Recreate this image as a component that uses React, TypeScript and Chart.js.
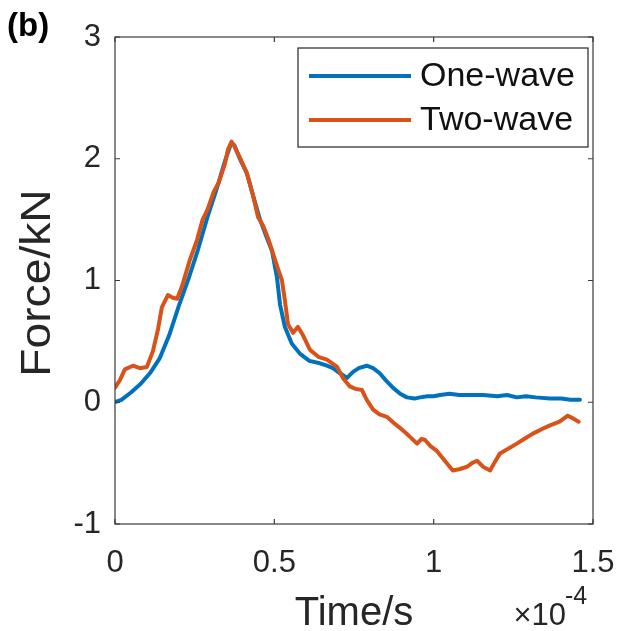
import React, { useEffect, useRef } from 'react';
import { Chart, registerables } from 'chart.js';

Chart.register(...registerables);

// Time in units of 1e-4 s, force in kN
const oneWaveTime = [
  0, 0.02, 0.05, 0.08, 0.11, 0.14, 0.17, 0.2, 0.23, 0.26,
  0.29, 0.32, 0.345, 0.365, 0.375, 0.39, 0.414, 0.433, 0.455, 0.475,
  0.493, 0.508, 0.518, 0.533, 0.555, 0.58, 0.61, 0.643, 0.665, 0.684,
  0.705, 0.728, 0.747, 0.765, 0.79, 0.81, 0.83, 0.85, 0.872, 0.895,
  0.916, 0.94, 0.957, 0.98, 1.0, 1.02, 1.05, 1.08, 1.11, 1.155,
  1.2, 1.23, 1.261, 1.29, 1.32, 1.365, 1.4, 1.43, 1.459,
];
const oneWaveForce = [
  0.0, 0.02, 0.08, 0.15, 0.24, 0.36, 0.55, 0.79, 1.01, 1.25,
  1.52, 1.76, 1.98, 2.13, 2.11, 2.01, 1.88, 1.7, 1.5, 1.36,
  1.24, 1.03, 0.8, 0.62, 0.48, 0.4, 0.34, 0.32, 0.3, 0.28,
  0.24, 0.2, 0.25, 0.28, 0.3, 0.28, 0.24, 0.18, 0.12, 0.07,
  0.04, 0.03, 0.04, 0.05, 0.05, 0.06, 0.07, 0.06, 0.06, 0.06,
  0.05, 0.06, 0.04, 0.05, 0.04, 0.03, 0.03, 0.02, 0.02,
];

const twoWaveTime = [
  0, 0.015, 0.031, 0.056, 0.078, 0.1, 0.119, 0.135, 0.147, 0.166,
  0.18, 0.195, 0.21, 0.235, 0.257, 0.275, 0.29, 0.31, 0.325, 0.345,
  0.355, 0.366, 0.375, 0.39, 0.414, 0.433, 0.449, 0.465, 0.48, 0.496,
  0.511, 0.524, 0.533, 0.543, 0.559, 0.574, 0.59, 0.612, 0.64, 0.665,
  0.697, 0.715, 0.737, 0.755, 0.775, 0.79, 0.81, 0.83, 0.853, 0.875,
  0.894, 0.92, 0.948, 0.962, 0.973, 0.99, 1.01, 1.035, 1.06, 1.08,
  1.105, 1.12, 1.136, 1.155, 1.177, 1.19, 1.208, 1.235, 1.261, 1.285,
  1.31, 1.34, 1.365, 1.395, 1.421, 1.435, 1.455,
];
const twoWaveForce = [
  0.12, 0.18, 0.27, 0.3, 0.28, 0.29, 0.42, 0.6, 0.78, 0.88,
  0.86, 0.85, 0.95, 1.17, 1.33, 1.5, 1.58, 1.73, 1.8, 1.96,
  2.08, 2.14, 2.1, 2.02, 1.88, 1.7, 1.52, 1.45, 1.35, 1.22,
  1.1, 1.0, 0.84, 0.64, 0.57, 0.62, 0.55, 0.43, 0.37, 0.35,
  0.29, 0.2, 0.13, 0.11, 0.1, 0.02, -0.06, -0.1, -0.12, -0.17,
  -0.21, -0.27, -0.34, -0.3, -0.31, -0.36, -0.4, -0.48, -0.56, -0.55,
  -0.53, -0.5, -0.48, -0.53, -0.56, -0.5, -0.42, -0.38, -0.34, -0.3,
  -0.26, -0.22, -0.19, -0.16, -0.11, -0.13, -0.16,
];

const seriesNames = ['One-wave', 'Two-wave'];
const xTicks = [0, 0.5, 1, 1.5];
const yTicks = [-1, 0, 1, 2, 3];
const xTitle = 'Time/s';
const yTitle = 'Force/kN';
const panelLabel = '(b)';
const xMultiplierBase = '\u00d710';
const xMultiplierExp = '-4';

const FONT = "'Liberation Sans', Arial, Helvetica, sans-serif";
const INK = '#262626';

const decorPlugin = {
  id: 'decor',
  afterDatasetsDraw(chart: any) {
    const { ctx, chartArea: a, scales } = chart;
    ctx.save();
    ctx.strokeStyle = '#3a3a3a';
    ctx.lineWidth = 1.2;
    const L = 5;
    ctx.beginPath();
    for (const v of xTicks) {
      const px = scales.x.getPixelForValue(v);
      ctx.moveTo(px, a.bottom);
      ctx.lineTo(px, a.bottom - L);
      ctx.moveTo(px, a.top);
      ctx.lineTo(px, a.top + L);
    }
    for (const v of yTicks) {
      const py = scales.y.getPixelForValue(v);
      ctx.moveTo(a.left, py);
      ctx.lineTo(a.left + L, py);
      ctx.moveTo(a.right, py);
      ctx.lineTo(a.right - L, py);
    }
    ctx.stroke();
    ctx.strokeRect(a.left, a.top, a.right - a.left, a.bottom - a.top);

    // legend
    const lx0 = 298, ly0 = 48, lx1 = 588, ly1 = 147;
    ctx.fillStyle = '#ffffff';
    ctx.fillRect(lx0, ly0, lx1 - lx0, ly1 - ly0);
    ctx.strokeStyle = '#262626';
    ctx.lineWidth = 1.2;
    ctx.strokeRect(lx0, ly0, lx1 - lx0, ly1 - ly0);
    const rows = [76, 120];
    chart.data.datasets.forEach((ds: any, i: number) => {
      const y = rows[i];
      ctx.strokeStyle = ds.borderColor;
      ctx.lineWidth = 4;
      ctx.beginPath();
      ctx.moveTo(309, y);
      ctx.lineTo(411, y);
      ctx.stroke();
      ctx.fillStyle = '#111111';
      ctx.font = `34px ${FONT}`;
      ctx.textAlign = 'left';
      ctx.textBaseline = 'middle';
      ctx.fillText(ds.label, 420, y + 1);
    });
    ctx.restore();
  },
  afterDraw(chart: any) {
    const { ctx, chartArea: a } = chart;
    ctx.save();
    ctx.fillStyle = INK;
    // y title
    ctx.save();
    ctx.translate(50, 283);
    ctx.rotate(-Math.PI / 2);
    ctx.scale(1.1, 1);
    ctx.font = `42px ${FONT}`;
    ctx.textAlign = 'center';
    ctx.textBaseline = 'alphabetic';
    ctx.fillText(yTitle, 0, 0);
    ctx.restore();
    // x title
    ctx.font = `40px ${FONT}`;
    ctx.textAlign = 'center';
    ctx.textBaseline = 'alphabetic';
    ctx.fillText(xTitle, (a.left + a.right) / 2, 625);
    // panel label
    ctx.fillStyle = '#000000';
    ctx.font = `bold 33px ${FONT}`;
    ctx.textAlign = 'left';
    ctx.fillText(panelLabel, 7, 36);
    // multiplier
    ctx.fillStyle = INK;
    ctx.font = `31px ${FONT}`;
    ctx.textAlign = 'right';
    ctx.fillText(xMultiplierBase, 566, 625);
    ctx.font = `25px ${FONT}`;
    ctx.textAlign = 'left';
    ctx.fillText(xMultiplierExp, 565, 604);
    ctx.restore();
  },
};

export default function App() {
  const canvasRef = useRef<HTMLCanvasElement | null>(null);

  useEffect(() => {
    const canvas = canvasRef.current;
    if (!canvas) return;
    const chart = new Chart(canvas, {
      type: 'line',
      data: {
        datasets: [
          {
            label: seriesNames[0],
            data: oneWaveTime.map((t, i) => ({ x: t, y: oneWaveForce[i] })),
            borderColor: '#0072BD',
            borderWidth: 4,
            pointRadius: 0,
            tension: 0,
            fill: false,
            order: 1,
            borderJoinStyle: 'round',
            borderCapStyle: 'round',
          },
          {
            label: seriesNames[1],
            data: twoWaveTime.map((t, i) => ({ x: t, y: twoWaveForce[i] })),
            borderColor: '#D95319',
            borderWidth: 4,
            pointRadius: 0,
            tension: 0,
            fill: false,
            order: 0,
            borderJoinStyle: 'round',
            borderCapStyle: 'round',
          },
        ],
      },
      options: {
        animation: false,
        responsive: false,
        maintainAspectRatio: false,
        layout: { padding: { top: 37, right: 29, left: 0, bottom: 0 } },
        plugins: { legend: { display: false }, tooltip: { enabled: false } },
        events: [],
        scales: {
          x: {
            type: 'linear',
            min: 0,
            max: 1.5,
            afterFit: (s: any) => { s.height = 107; s.paddingLeft = 0; s.paddingRight = 0; },
            afterBuildTicks: (s: any) => { s.ticks = xTicks.map((v) => ({ value: v })); },
            grid: { display: false, drawTicks: false },
            border: { display: false },
            ticks: {
              padding: 21,
              color: INK,
              font: { family: FONT, size: 31 },
              maxRotation: 0,
              callback: (v: any) => String(v),
            },
          },
          y: {
            type: 'linear',
            min: -1,
            max: 3,
            afterFit: (s: any) => { s.width = 115; s.paddingTop = 0; s.paddingBottom = 0; },
            afterBuildTicks: (s: any) => { s.ticks = yTicks.map((v) => ({ value: v })); },
            grid: { display: false, drawTicks: false },
            border: { display: false },
            ticks: {
              padding: 14,
              color: INK,
              font: { family: FONT, size: 31 },
              callback: (v: any) => String(v),
            },
          },
        },
      },
      plugins: [decorPlugin],
    } as any);
    return () => chart.destroy();
  }, []);

  return (
    <div style={{ position: 'fixed', left: 0, top: 0, width: 622, height: 631, background: '#fff' }}>
      <canvas ref={canvasRef} width={622} height={631} style={{ display: 'block' }} />
    </div>
  );
}
